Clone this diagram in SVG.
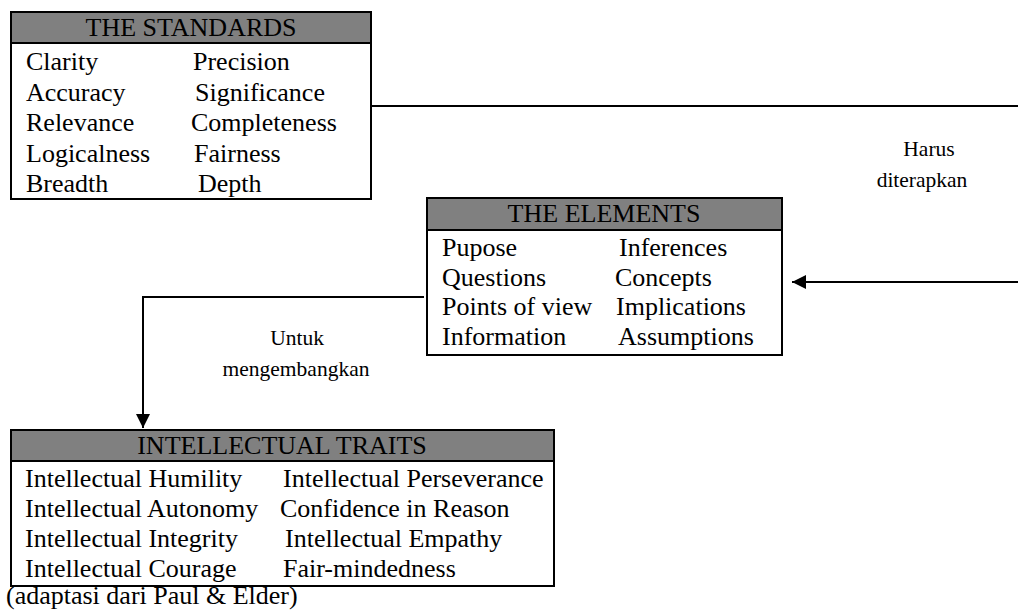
<svg xmlns="http://www.w3.org/2000/svg" width="1018" height="615" viewBox="0 0 1018 615">
  <style>
    .box { fill: #ffffff; stroke: #000000; stroke-width: 2; }
    .head { fill: #808080; stroke: #000000; stroke-width: 2; }
    text { font-family: 'Liberation Serif', 'DejaVu Serif', 'Times New Roman', serif; fill: #000000; }
    .t { font-size: 26px; }
    .h { text-anchor: middle; }
    .lbl { font-size: 21.5px; text-anchor: middle; }
    .wire { fill: none; stroke: #000000; stroke-width: 2; }
  </style>
  <defs>
    <marker id="arrow" viewBox="0 0 10 10" refX="10" refY="5" markerWidth="7" markerHeight="7" markerUnits="strokeWidth" orient="auto">
      <path d="M0,0 L10,5 L0,10 z" fill="#000000"/>
    </marker>
  </defs>
  <rect width="1018" height="615" fill="#ffffff"/>

  <!-- connectors and their labels -->
  <g id="connectors">
    <path class="wire" d="M371,106 H1018"/>
    <path class="wire" d="M1018,282 H792" marker-end="url(#arrow)"/>
    <path class="wire" d="M424,297 H143 V428" marker-end="url(#arrow)"/>
    <text class="lbl" x="929" y="156">Harus</text>
    <text class="lbl" x="922" y="187">diterapkan</text>
    <text class="lbl" x="297" y="345">Untuk</text>
    <text class="lbl" x="296" y="376">mengembangkan</text>
  </g>

  <!-- standards -->
  <g id="standards">
    <rect class="box" x="11" y="12" width="360" height="187"/>
    <rect class="head" x="11" y="12" width="360" height="31"/>
    <text class="t h" x="191" y="36">THE STANDARDS</text>
    <text class="t" x="26" y="70">Clarity</text>
    <text class="t" x="193" y="70">Precision</text>
    <text class="t" x="26" y="101">Accuracy</text>
    <text class="t" x="195" y="101">Significance</text>
    <text class="t" x="26" y="131">Relevance</text>
    <text class="t" x="191" y="131">Completeness</text>
    <text class="t" x="26" y="162">Logicalness</text>
    <text class="t" x="194" y="162">Fairness</text>
    <text class="t" x="26" y="192">Breadth</text>
    <text class="t" x="198" y="192">Depth</text>
  </g>

  <!-- elements -->
  <g id="elements">
    <rect class="box" x="427" y="198" width="355" height="157"/>
    <rect class="head" x="427" y="198" width="355" height="32"/>
    <text class="t h" x="604" y="222">THE ELEMENTS</text>
    <text class="t" x="442" y="256">Pupose</text>
    <text class="t" x="619" y="256">Inferences</text>
    <text class="t" x="442" y="286">Questions</text>
    <text class="t" x="615" y="286">Concepts</text>
    <text class="t" x="442" y="315">Points of view</text>
    <text class="t" x="616" y="315">Implications</text>
    <text class="t" x="442" y="345">Information</text>
    <text class="t" x="618" y="345">Assumptions</text>
  </g>

  <!-- intellectual traits -->
  <g id="traits">
    <rect class="box" x="11" y="430" width="543" height="156"/>
    <rect class="head" x="11" y="430" width="543" height="31"/>
    <text class="t h" x="282" y="454">INTELLECTUAL TRAITS</text>
    <text class="t" x="25" y="487">Intellectual Humility</text>
    <text class="t" x="283" y="487">Intellectual Perseverance</text>
    <text class="t" x="25" y="517">Intellectual Autonomy</text>
    <text class="t" x="280" y="517">Confidence in Reason</text>
    <text class="t" x="25" y="547">Intellectual Integrity</text>
    <text class="t" x="285" y="547">Intellectual Empathy</text>
    <text class="t" x="25" y="577">Intellectual Courage</text>
    <text class="t" x="283" y="577">Fair-mindedness</text>
  </g>

  <g id="caption">
    <text class="t" x="6" y="604">(adaptasi dari Paul &amp; Elder)</text>
  </g>
</svg>
